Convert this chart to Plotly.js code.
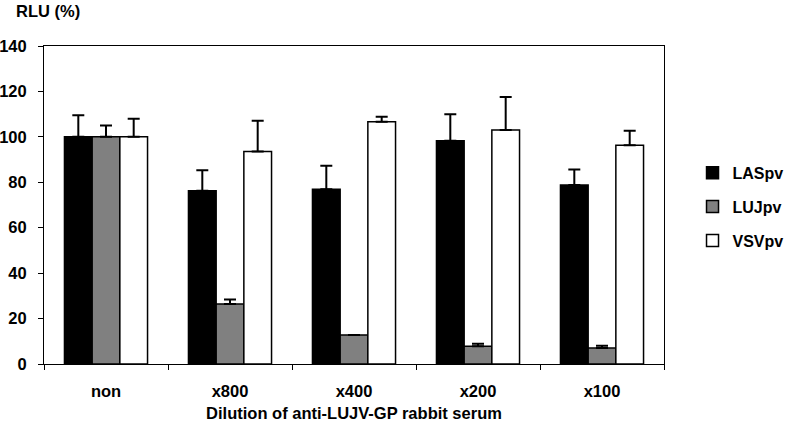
<!DOCTYPE html>
<html>
<head>
<meta charset="utf-8">
<script src="https://cdn.plot.ly/plotly-3.0.1.min.js"></script>
<style>
  body { margin: 0; background: #fff; }
  #plotArea { width: 800px; height: 422px; }
</style>
</head>
<body>
<div id="plotArea"></div>
<script>
// data
var dilutions = ["non", "x800", "x400", "x200", "x100"];

var lasValues = [100, 76.3, 76.9, 98.3, 78.8];
var lasErrors = [9.5, 9.0, 10.4, 11.6, 6.8];

var lujValues = [100, 26.4, 12.8, 7.8, 7.0];
var lujErrors = [5.0, 2.0, 0, 1.1, 1.0];

var vsvValues = [100, 93.6, 106.6, 103, 96.3];
var vsvErrors = [8.0, 13.5, 2.2, 14.6, 6.4];

function makeTrace(name, values, errors, color, group) {
    return {
        x: dilutions,
        y: values,
        name: name,
        type: "bar",
        legendgroup: group,
        marker: {color: color, line: {color: "#000", width: 1.5}},
        error_y: {
            type: "data",
            symmetric: false,
            array: errors,
            arrayminus: dilutions.map(function() { return 0; }),
            color: "#000",
            thickness: 2,
            width: 6
        }
    };
}

var data = [
    makeTrace("LASpv", lasValues, lasErrors, "#000000", "a"),
    makeTrace("LUJpv", lujValues, lujErrors, "#808080", "b"),
    makeTrace("VSVpv", vsvValues, vsvErrors, "#ffffff", "c")
];

var layout = {
    width: 800,
    height: 422,
    margin: {l: 44, r: 117, t: 46, b: 58},
    paper_bgcolor: "#fff",
    plot_bgcolor: "#fff",
    font: {family: "Liberation Sans, Arial, sans-serif", size: 16.5, color: "#000", weight: "bold"},
    barmode: "group",
    bargap: 0.33,
    bargroupgap: 0,
    showlegend: true,
    legend: {
        x: 1.046, y: 0.494, xanchor: "left", yanchor: "middle",
        font: {size: 16, weight: "bold"},
        tracegroupgap: 10,
        itemwidth: 30
    },
    xaxis: {
        type: "category",
        showline: true, mirror: true, linecolor: "#000", linewidth: 1,
        ticks: "outside", tickson: "boundaries", ticklen: 5, tickcolor: "#000",
        ticklabelstandoff: 12,
        showgrid: false,
        title: {text: "Dilution of anti-LUJV-GP rabbit serum", font: {size: 16.5, weight: "bold"}, standoff: 16}
    },
    yaxis: {
        range: [0, 140], dtick: 20,
        showline: true, mirror: true, linecolor: "#000", linewidth: 1,
        ticks: "outside", ticklen: 5, tickcolor: "#000",
        ticklabelstandoff: 8,
        showgrid: false, zeroline: false
    },
    annotations: [{
        text: "RLU (%)", xref: "paper", yref: "paper",
        x: -0.048, y: 1.075, xanchor: "left", yanchor: "bottom",
        showarrow: false, font: {size: 16.5, weight: "bold"}
    }]
};

Plotly.newPlot("plotArea", data, layout, {displayModeBar: false});
</script>
</body>
</html>
